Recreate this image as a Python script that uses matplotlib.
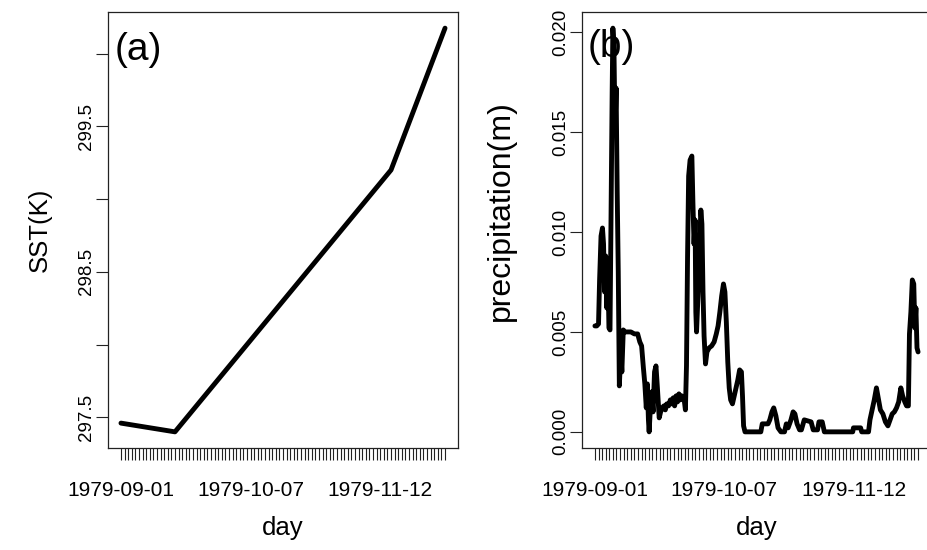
import numpy as np
import matplotlib
matplotlib.use("Agg")
import matplotlib.pyplot as plt

plt.rcParams['font.family'] = ['Liberation Sans', 'DejaVu Sans']

# ---------------- data ----------------
date_labels = ["1979-09-01", "1979-10-07", "1979-11-12"]
date_label_day = [0, 36, 72]
n_days = 91

sst_values = [
    297.460, 297.456, 297.452, 297.448, 297.444, 297.440, 297.436, 297.432,
    297.428, 297.424, 297.420, 297.416, 297.412, 297.408, 297.404, 297.400,
    297.43, 297.46, 297.49, 297.52, 297.55, 297.58, 297.61, 297.64, 297.67,
    297.70, 297.73, 297.76, 297.79, 297.82, 297.85, 297.88, 297.91, 297.94,
    297.97, 298.00, 298.03, 298.06, 298.09, 298.12, 298.15, 298.18, 298.21,
    298.24, 298.27, 298.30, 298.33, 298.36, 298.39, 298.42, 298.45, 298.48,
    298.51, 298.54, 298.57, 298.60, 298.63, 298.66, 298.69, 298.72, 298.75,
    298.78, 298.81, 298.84, 298.87, 298.90, 298.93, 298.96, 298.99, 299.02,
    299.05, 299.08, 299.11, 299.14, 299.17, 299.20,
    299.265, 299.330, 299.395, 299.460, 299.525, 299.590, 299.655, 299.720,
    299.785, 299.850, 299.915, 299.980, 300.045, 300.110, 300.175,
]

precip_day = [
    0.0, 0.5, 1.0, 1.3, 1.7, 2.1, 2.4, 2.7, 3.0, 3.3, 3.6, 3.9, 4.2, 4.5, 4.8,
    5.0, 5.3, 5.6, 5.9, 6.2, 6.5, 6.8, 7.2, 7.5, 7.9, 8.4, 9.0, 10.0, 11.0,
    11.9, 12.5, 13.0, 13.5, 13.9, 14.3, 14.6, 14.9, 15.1, 15.5, 15.8, 16.2,
    16.6, 17.0, 17.4, 17.9, 18.3, 18.7, 19.2, 19.6, 20.0, 20.5, 21.0, 21.4,
    21.8, 22.2, 22.6, 23.0, 23.4, 23.8, 24.2, 24.8, 25.2, 25.5, 25.8, 26.1,
    26.5, 27.0, 27.3, 27.6, 27.9, 28.1, 28.3, 28.7, 29.1, 29.5, 29.8, 30.1,
    30.4, 30.8, 31.2, 31.8, 32.5, 33.2, 33.8, 34.3, 34.8, 35.3, 35.8, 36.2,
    36.6, 37.0, 37.4, 37.8, 38.3, 38.8, 39.3, 39.8, 40.3, 40.8, 41.1, 41.4,
    41.8, 46.2, 46.6, 48.2, 48.7, 49.3, 49.8, 50.4, 51.0, 51.8, 52.8, 53.3,
    53.8, 54.6, 55.2, 55.7, 56.3, 57.0, 57.5, 58.3, 60.2, 60.8, 62.0, 62.4,
    63.3, 63.9, 71.8, 72.0, 74.0, 74.3, 76.2, 76.6, 77.2, 77.8, 78.4, 78.9,
    79.5, 80.2, 80.9, 81.6, 82.2, 82.8, 83.4, 84.0, 84.6, 85.2, 85.7, 86.3,
    86.8, 87.3, 87.6, 88.0, 88.4, 88.8, 89.1, 89.4, 89.7, 90.0,
]
precip_values = [
    0.0053, 0.0053, 0.0054, 0.0076, 0.0098, 0.0102, 0.0094, 0.0070, 0.0088,
    0.0062, 0.0084, 0.0052, 0.0051, 0.0110, 0.0170, 0.0202, 0.0192, 0.0150,
    0.0172, 0.0120, 0.0080, 0.0023, 0.0040, 0.0030, 0.0051, 0.0050, 0.0050,
    0.0050, 0.0049, 0.0049, 0.0045, 0.0043, 0.0032, 0.0024, 0.0012, 0.0024,
    0.0006, 0.0000, 0.0014, 0.0020, 0.0010, 0.0030, 0.0033, 0.0022, 0.0007,
    0.0010, 0.0012, 0.0013, 0.0011, 0.0014, 0.0013, 0.0016, 0.0014, 0.0017,
    0.0013, 0.0018, 0.0015, 0.0019, 0.0016, 0.0018, 0.0017, 0.0011, 0.0033,
    0.0088, 0.0128, 0.0136, 0.0138, 0.0114, 0.0094, 0.0106, 0.0060, 0.0050,
    0.0068, 0.0090, 0.0111, 0.0104, 0.0070, 0.0048, 0.0034, 0.0040, 0.0042,
    0.0043, 0.0045, 0.0049, 0.0053, 0.0060, 0.0068, 0.0074, 0.0070, 0.0055,
    0.0035, 0.0022, 0.0016, 0.0014, 0.0018, 0.0022, 0.0026, 0.0031, 0.0030,
    0.0018, 0.0003, 0.0000, 0.0000, 0.0004, 0.0004, 0.0006, 0.0010, 0.0012,
    0.0008, 0.0002, 0.0000, 0.0000, 0.0004, 0.0002, 0.0006, 0.0010, 0.0009,
    0.0004, 0.0001, 0.0001, 0.0006, 0.0005, 0.0001, 0.0001, 0.0005, 0.0005,
    0.0000, 0.0000, 0.0002, 0.0002, 0.0000, 0.0000, 0.0006, 0.0011, 0.0016,
    0.0022, 0.0017, 0.0011, 0.0009, 0.0005, 0.0003, 0.0006, 0.0009, 0.0010,
    0.0012, 0.0015, 0.0022, 0.0018, 0.0015, 0.0013, 0.0013, 0.0049, 0.0060,
    0.0076, 0.0074, 0.0052, 0.0062, 0.0042, 0.0040,
]

sst_ticks = [297.5, 298.0, 298.5, 299.0, 299.5, 300.0]
sst_tick_labels = ["297.5", "", "298.5", "", "299.5", ""]
precip_ticks = [0.000, 0.005, 0.010, 0.015, 0.020]
precip_tick_labels = ["0.000", "0.005", "0.010", "0.015", "0.020"]

# ---------------- figure ----------------
W, H = 928, 550
fig = plt.figure(figsize=(W / 100, H / 100), dpi=100)

def r_range(lo, hi):
    pad = 0.04 * (hi - lo)
    return lo - pad, hi + pad

days = np.arange(n_days)

def style_axes(ax):
    for s in ax.spines.values():
        s.set_linewidth(0.9)
        s.set_color("#222222")
    ax.tick_params(axis="both", length=8.5, width=0.8, color="#222222")
    ax.tick_params(axis="x", labelsize=15, pad=15)
    ax.tick_params(axis="y", labelsize=13.5, pad=1)
    ax.set_xticks(days, minor=False)
    labels = [""] * n_days
    for d, lab in zip(date_label_day, date_labels):
        labels[d] = lab
    ax.set_xticklabels(labels)
    ax.set_xlim(*r_range(0, n_days - 1))
    ax.set_xlabel("day", fontsize=18.5, labelpad=12)
    for lab in ax.get_yticklabels():
        lab.set_rotation(90)
        lab.set_va("center")

# left panel
ax1 = fig.add_axes([108 / W, 1 - 448 / H, 350 / W, 436 / H])
ax1.plot(days, sst_values, color="black", linewidth=3.5,
         solid_joinstyle="round", solid_capstyle="round")
ax1.set_ylim(*r_range(min(sst_values), max(sst_values)))
ax1.set_yticks(sst_ticks)
ax1.set_yticklabels(sst_tick_labels)
style_axes(ax1)
ax1.set_ylabel("SST(K)", fontsize=18.5, labelpad=19)
ax1.text(0.02, 0.913, "(a)", transform=ax1.transAxes, fontsize=28,
         va="center", ha="left")

# right panel
ax2 = fig.add_axes([582 / W, 1 - 448 / H, 349 / W, 436 / H])
ax2.plot(precip_day, precip_values, color="black", linewidth=3.5,
         solid_joinstyle="round", solid_capstyle="round")
ax2.set_ylim(*r_range(0, max(precip_values)))
ax2.set_yticks(precip_ticks)
ax2.set_yticklabels(precip_tick_labels)
style_axes(ax2)
ax2.set_ylabel("precipitation(m)", fontsize=23)
ax2.yaxis.set_label_coords(-0.19, 0.545)
ax2.text(0.017, 0.92, "(b)", transform=ax2.transAxes, fontsize=28,
         va="center", ha="left")

fig.savefig("out.png", dpi=100)
